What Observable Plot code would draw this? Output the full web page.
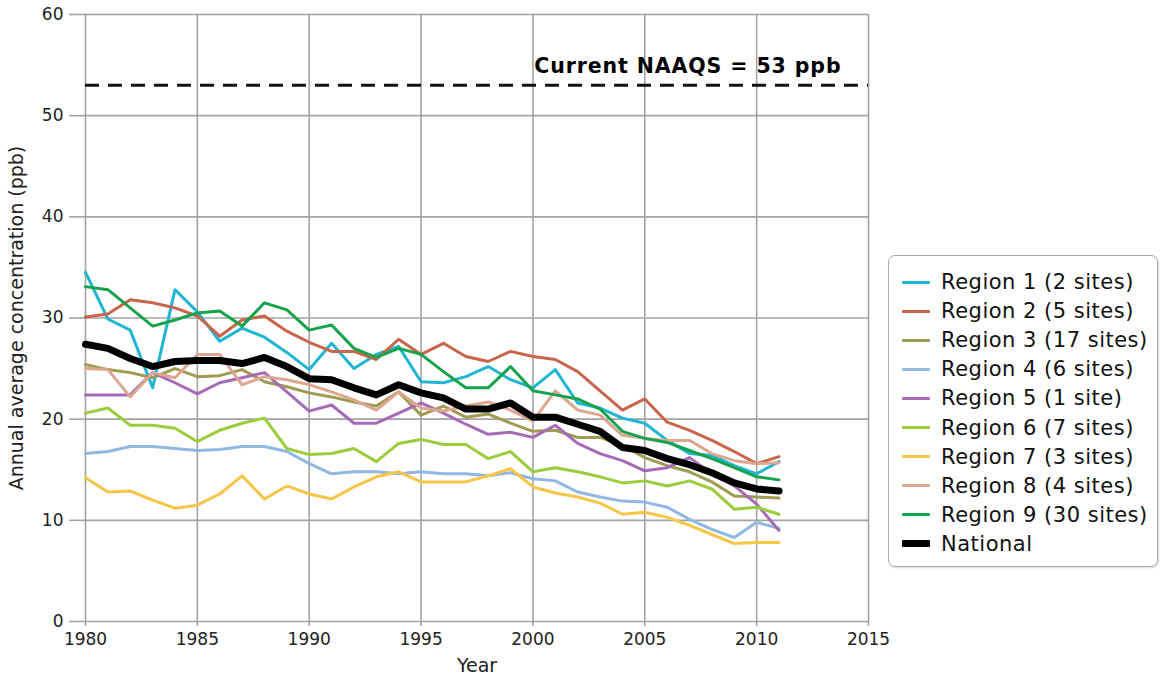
<!DOCTYPE html>
<html>
<head>
<meta charset="utf-8">
<script src="https://cdn.jsdelivr.net/npm/d3@7"></script>
<script src="https://cdn.jsdelivr.net/npm/@observablehq/plot@0.6"></script>
<style>
  html, body { margin: 0; padding: 0; background: #fff; }
  #wrap { position: relative; width: 1160px; height: 674px; font-family: "DejaVu Sans", sans-serif; }
  #legend {
    position: absolute; left: 888px; top: 255px; width: 270px; height: 312px;
    border: 1.5px solid #a8a8a8; border-radius: 7px; box-sizing: border-box; background: #fff;
    box-shadow: 1px 1px 2px rgba(0,0,0,0.15);
  }
  .row { position: absolute; left: 0; height: 28px; display: flex; align-items: center; white-space: nowrap; }
  .sw { display: inline-block; width: 28px; margin-left: 13px; margin-right: 11px; border-radius: 1px; }
  .lab { font-size: 21px; letter-spacing: 0.5px; color: #111; }
  .naaqs text { letter-spacing: 0.9px; }
</style>
</head>
<body>
<div id="wrap"><div id="chart"></div><div id="legend"></div></div>
<script>
// ---------- data ----------
const years = [1980,1981,1982,1983,1984,1985,1986,1987,1988,1989,1990,1991,1992,1993,1994,1995,
               1996,1997,1998,1999,2000,2001,2002,2003,2004,2005,2006,2007,2008,2009,2010,2011];
const region1 = [34.5,29.9,28.8,23.1,32.8,30.6,27.7,29.0,28.1,26.6,24.9,27.5,25.0,26.4,27.2,23.7,
                 23.6,24.2,25.2,23.9,23.1,24.9,21.6,21.1,20.1,19.6,17.9,16.6,16.4,15.4,14.6,15.8];
const region2 = [30.1,30.4,31.8,31.5,31.0,30.2,28.2,29.8,30.2,28.7,27.6,26.7,26.7,25.9,27.9,26.4,
                 27.5,26.2,25.7,26.7,26.2,25.9,24.7,22.8,20.9,22.0,19.7,18.9,17.9,16.8,15.6,16.3];
const region3 = [25.4,24.9,24.6,24.1,25.0,24.2,24.3,24.9,23.7,23.2,22.6,22.2,21.7,21.3,22.7,20.4,
                 21.3,20.2,20.5,19.6,18.8,18.9,18.2,18.2,17.4,16.2,15.4,14.8,13.8,12.4,12.3,12.2];
const region4 = [16.6,16.8,17.3,17.3,17.1,16.9,17.0,17.3,17.3,16.8,15.6,14.6,14.8,14.8,14.6,14.8,
                 14.6,14.6,14.4,14.7,14.1,13.9,12.8,12.3,11.9,11.8,11.3,10.1,9.1,8.3,9.8,9.2];
const region5 = [22.4,22.4,22.4,24.6,23.6,22.5,23.6,24.1,24.6,22.7,20.8,21.4,19.6,19.6,20.6,21.6,
                 20.6,19.5,18.5,18.7,18.2,19.4,17.6,16.6,15.9,14.9,15.2,16.2,14.6,13.4,11.6,9.0];
const region6 = [20.6,21.1,19.4,19.4,19.1,17.8,18.9,19.6,20.1,17.1,16.5,16.6,17.1,15.8,17.6,18.0,
                 17.5,17.5,16.1,16.8,14.8,15.2,14.8,14.3,13.7,13.9,13.4,13.9,13.1,11.1,11.3,10.6];
const region7 = [14.2,12.8,12.9,12.0,11.2,11.5,12.6,14.4,12.1,13.4,12.6,12.1,13.3,14.3,14.8,13.8,
                 13.8,13.8,14.4,15.1,13.3,12.7,12.3,11.7,10.6,10.8,10.3,9.5,8.6,7.7,7.8,7.8];
const region8 = [25.0,24.9,22.2,24.6,24.1,26.4,26.4,23.4,24.2,23.9,23.4,22.7,21.9,20.9,22.7,21.1,
                 20.8,21.3,21.7,20.9,19.8,22.8,20.9,20.4,18.4,18.1,17.9,17.9,16.6,15.9,15.6,15.7];
const region9 = [33.1,32.8,31.0,29.2,29.8,30.5,30.7,29.2,31.5,30.8,28.8,29.3,27.0,26.1,27.0,26.4,
                 24.7,23.1,23.1,25.2,22.8,22.4,22.0,21.0,18.8,18.1,17.7,16.9,16.1,15.2,14.3,14.0];
const national = [27.4,27.0,26.0,25.2,25.7,25.8,25.8,25.5,26.1,25.2,24.0,23.9,23.1,22.4,23.4,22.6,
                  22.1,21.0,21.0,21.6,20.2,20.2,19.5,18.8,17.2,16.9,16.1,15.5,14.7,13.7,13.1,12.9];

const regionNames = ["Region 1 (2 sites)","Region 2 (5 sites)","Region 3 (17 sites)","Region 4 (6 sites)",
                     "Region 5 (1 site)","Region 6 (7 sites)","Region 7 (3 sites)","Region 8 (4 sites)",
                     "Region 9 (30 sites)"];
const regionColors = ["#1fb6d2","#c8654b","#a09a52","#8fb8e4","#a56bb6","#9bcc3c","#f7c548","#dca691","#17a34d"];
const nationalName = "National";
const nationalColor = "#000000";

const xTicks = [1980,1985,1990,1995,2000,2005,2010,2015];
const yTicks = [0,10,20,30,40,50,60];
const naaqsValue = [53];
const naaqsLabel = ["Current NAAQS = 53 ppb"];

// ---------- build tables ----------
const regionSeries = [region1,region2,region3,region4,region5,region6,region7,region8,region9];
const regionRows = regionSeries.flatMap((vals, i) => vals.map((v, j) => ({year: years[j], value: v, series: regionNames[i]})));
const nationalRows = national.map((v, j) => ({year: years[j], value: v, series: nationalName}));

const grid = "#a3a3a3";
const chart = Plot.plot({
  width: 1160, height: 674,
  marginLeft: 85, marginRight: 292, marginTop: 14, marginBottom: 53,
  style: {fontFamily: "DejaVu Sans, sans-serif", background: "#fff", color: "#000", overflow: "visible"},
  x: {domain: [1980, 2015]},
  y: {domain: [0, 60]},
  color: {domain: regionNames, range: regionColors},
  marks: [
    Plot.gridX(xTicks, {stroke: grid, strokeOpacity: 1, strokeWidth: 1.6}),
    Plot.gridY(yTicks, {stroke: grid, strokeOpacity: 1, strokeWidth: 1.6}),
    Plot.axisX(xTicks, {tickSize: 5, tickPadding: 6, fontSize: 17, stroke: grid, strokeWidth: 1.6, fill: "#222",
      tickFormat: d => String(d), label: "Year", labelAnchor: "center", labelArrow: "none", labelOffset: 50}),
    Plot.axisY(yTicks, {tickSize: 16, tickPadding: 6, fontSize: 17, stroke: grid, strokeWidth: 1.6, fill: "#222",
      label: "Annual average concentration (ppb)", labelAnchor: "center", labelArrow: "none", labelOffset: 76}),
    Plot.ruleY(naaqsValue, {stroke: "#111", strokeWidth: 3, strokeDasharray: "14,9"}),
    Plot.text(naaqsLabel, {x: 2015, y: naaqsValue[0], text: d => d, textAnchor: "end", lineAnchor: "bottom",
      dx: -27, dy: -12, fontSize: 20.5, fontWeight: "bold", fill: "#000", className: "naaqs"}),
    Plot.line(regionRows, {x: "year", y: "value", z: "series", stroke: "series", strokeWidth: 3,
      strokeLinejoin: "round", strokeLinecap: "round"}),
    Plot.line(nationalRows, {x: "year", y: "value", stroke: nationalColor, strokeWidth: 7,
      strokeLinejoin: "round"})
  ]
});
chart.querySelectorAll('g[aria-label="y-axis label"] text, g[aria-label="x-axis label"] text').forEach(t => t.setAttribute("font-size", "19"));
document.getElementById("chart").appendChild(chart);

// ---------- legend ----------
const legend = document.getElementById("legend");
const items = regionNames.map((n, i) => ({name: n, color: regionColors[i], w: 3}))
  .concat([{name: nationalName, color: nationalColor, w: 7}]);
items.forEach((it, i) => {
  const row = document.createElement("div");
  row.className = "row";
  row.style.top = (12 + i * 29.1) + "px";
  const sw = document.createElement("span");
  sw.className = "sw";
  sw.style.height = it.w + "px";
  sw.style.background = it.color;
  const lab = document.createElement("span");
  lab.className = "lab";
  lab.textContent = it.name;
  row.appendChild(sw); row.appendChild(lab);
  legend.appendChild(row);
});
</script>
</body>
</html>
